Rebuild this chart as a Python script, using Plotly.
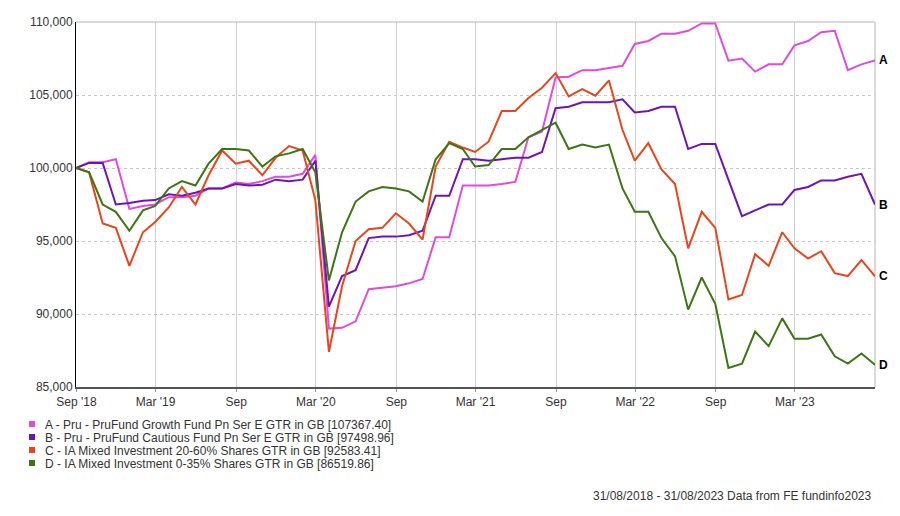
import pandas as pd
import plotly.graph_objects as go

dates = pd.date_range("2018-08-31", periods=61, freq="ME")

series_names = [
    "A - Pru - PruFund Growth Fund Pn Ser E GTR in GB [107367.40]",
    "B - Pru - PruFund Cautious Fund Pn Ser E GTR in GB [97498.96]",
    "C - IA Mixed Investment 20-60% Shares GTR in GB [92583.41]",
    "D - IA Mixed Investment 0-35% Shares GTR in GB [86519.86]",
]
end_labels = ["A", "B", "C", "D"]
colors = ["#E04CDA", "#6E14B4", "#E6461E", "#3C7614"]

series_a = [100000, 100400, 100400, 100600, 97200, 97400, 97500, 98000, 98000, 98100,
            98600, 98600, 99000, 98900, 99100, 99400, 99400, 99600, 100900, 89000,
            89050, 89500, 91700, 91800, 91900, 92100, 92400, 95250, 95250, 98800,
            98800, 98800, 98900, 99050, 102100, 102500, 106200, 106250, 106700, 106700,
            106850, 107000, 108500, 108700, 109200, 109200, 109400, 109900, 109900, 107350,
            107500, 106600, 107100, 107100, 108400, 108700, 109300, 109400, 106700, 107100,
            107367.40]
series_b = [100000, 100350, 100350, 97500, 97600, 97750, 97800, 98200, 98100, 98300,
            98600, 98600, 98900, 98800, 98850, 99200, 99100, 99200, 100500, 90500,
            92600, 93000, 95200, 95300, 95300, 95400, 95700, 98100, 98100, 100600,
            100600, 100500, 100600, 100700, 100700, 101100, 104100, 104200, 104500, 104500,
            104500, 104700, 103800, 103900, 104200, 104200, 101300, 101650, 101650, 99200,
            96700, 97100, 97500, 97500, 98500, 98700, 99150, 99150, 99400, 99600,
            97498.96]
series_c = [100000, 99700, 96200, 95900, 93300, 95600, 96300, 97300, 98700, 97500,
            99500, 101200, 100300, 100500, 99500, 100700, 101500, 101200, 97800, 87400,
            91900, 95000, 95800, 95900, 96900, 96200, 95100, 100100, 101800, 101400,
            101100, 101800, 103900, 103900, 104800, 105500, 106500, 104900, 105400, 104950,
            106000, 102600, 100500, 101700, 99900, 98900, 94500, 97000, 95900, 91000,
            91300, 94100, 93300, 95600, 94500, 93800, 94300, 92800, 92600, 93700,
            92583.41]
series_d = [100000, 99700, 97500, 97000, 95700, 97100, 97400, 98600, 99100, 98800,
            100300, 101300, 101300, 101200, 100100, 100800, 101000, 101300, 99700, 92300,
            95600, 97700, 98400, 98700, 98600, 98400, 97700, 100600, 101700, 101300,
            100100, 100200, 101300, 101300, 102100, 102600, 103100, 101300, 101600, 101400,
            101600, 98600, 97000, 97000, 95200, 93950, 90300, 92500, 90700, 86300,
            86600, 88800, 87800, 89700, 88300, 88300, 88600, 87100, 86600, 87300,
            86519.86]

tick_dates = ["2018-09-01", "2019-03-01", "2019-09-01", "2020-03-01", "2020-09-01",
              "2021-03-01", "2021-09-01", "2022-03-01", "2022-09-01", "2023-03-01"]
tick_text = ["Sep '18", "Mar '19", "Sep", "Mar '20", "Sep", "Mar '21", "Sep",
             "Mar '22", "Sep", "Mar '23"]
y_ticks = [85000, 90000, 95000, 100000, 105000, 110000]
footer = "31/08/2018 - 31/08/2023 Data from FE fundinfo2023"

all_series = [series_a, series_b, series_c, series_d]
FONT = "Liberation Sans, Arial, sans-serif"

fig = go.Figure()
for vals, col, name in zip(all_series, colors, series_names):
    fig.add_trace(go.Scatter(x=dates, y=vals, mode="lines", name=name,
                             line=dict(color=col, width=2), hoverinfo="skip"))

# end labels
for vals, lab in zip(all_series, end_labels):
    fig.add_annotation(x=dates[-1], y=vals[-1], text="<b>%s</b>" % lab, showarrow=False,
                       xanchor="left", yanchor="middle", xshift=2,
                       font=dict(family=FONT, size=12, color="#000000"))

# plot frame (top and right in light grey)
fig.add_shape(type="line", xref="paper", yref="paper", x0=0, x1=1, y0=1, y1=1,
              line=dict(color="#D9D9D9", width=2), layer="below")
fig.add_shape(type="line", xref="paper", yref="paper", x0=1, x1=1, y0=0, y1=1,
              line=dict(color="#D9D9D9", width=2), layer="below")

# legend drawn manually below the chart
W, H = 900, 516
ml, mr, mt, mb = 76, 25, 22, 129
pw, ph = W - ml - mr, H - mt - mb
def px_x(p):
    return (p - ml) / pw
def px_y(p):
    return (H - mb - p) / ph

leg_y0 = 425
for k, (name, col) in enumerate(zip(series_names, colors)):
    yc = leg_y0 + 13 * k
    fig.add_shape(type="rect", xref="paper", yref="paper",
                  x0=px_x(29), x1=px_x(35), y0=px_y(yc - 4), y1=px_y(yc + 2),
                  fillcolor=col, line=dict(width=0))
    fig.add_annotation(xref="paper", yref="paper", x=px_x(43), y=px_y(yc), text=name,
                       showarrow=False, xanchor="left", yanchor="middle",
                       font=dict(family=FONT, size=12, color="#333333"))

fig.add_annotation(xref="paper", yref="paper", x=px_x(874), y=px_y(496), text=footer,
                   showarrow=False, xanchor="right", yanchor="middle",
                   font=dict(family=FONT, size=12, color="#333333"))

fig.update_layout(
    width=W, height=H,
    margin=dict(l=ml, r=mr, t=mt, b=mb),
    paper_bgcolor="white", plot_bgcolor="white",
    showlegend=False,
    font=dict(family=FONT, size=12, color="#333333"),
)
fig.update_xaxes(
    type="date", range=[dates[0], dates[-1]],
    tickvals=tick_dates, ticktext=tick_text,
    showgrid=True, gridcolor="#D0D0D0", gridwidth=1,
    showline=True, linecolor="#555555", linewidth=2,
    ticks="outside", ticklen=3, tickcolor="#999999",
    tickfont=dict(family=FONT, size=12, color="#333333"),
    zeroline=False,
)
fig.update_yaxes(
    range=[85000, 110000], tickvals=y_ticks, tickformat=",d",
    showgrid=True, gridcolor="#C8C8C8", gridwidth=1, griddash="dot",
    showline=True, linecolor="#000000", linewidth=1,
    ticks="", tickfont=dict(family=FONT, size=12, color="#333333"),
    zeroline=False,
)

fig.write_html("out.html")
